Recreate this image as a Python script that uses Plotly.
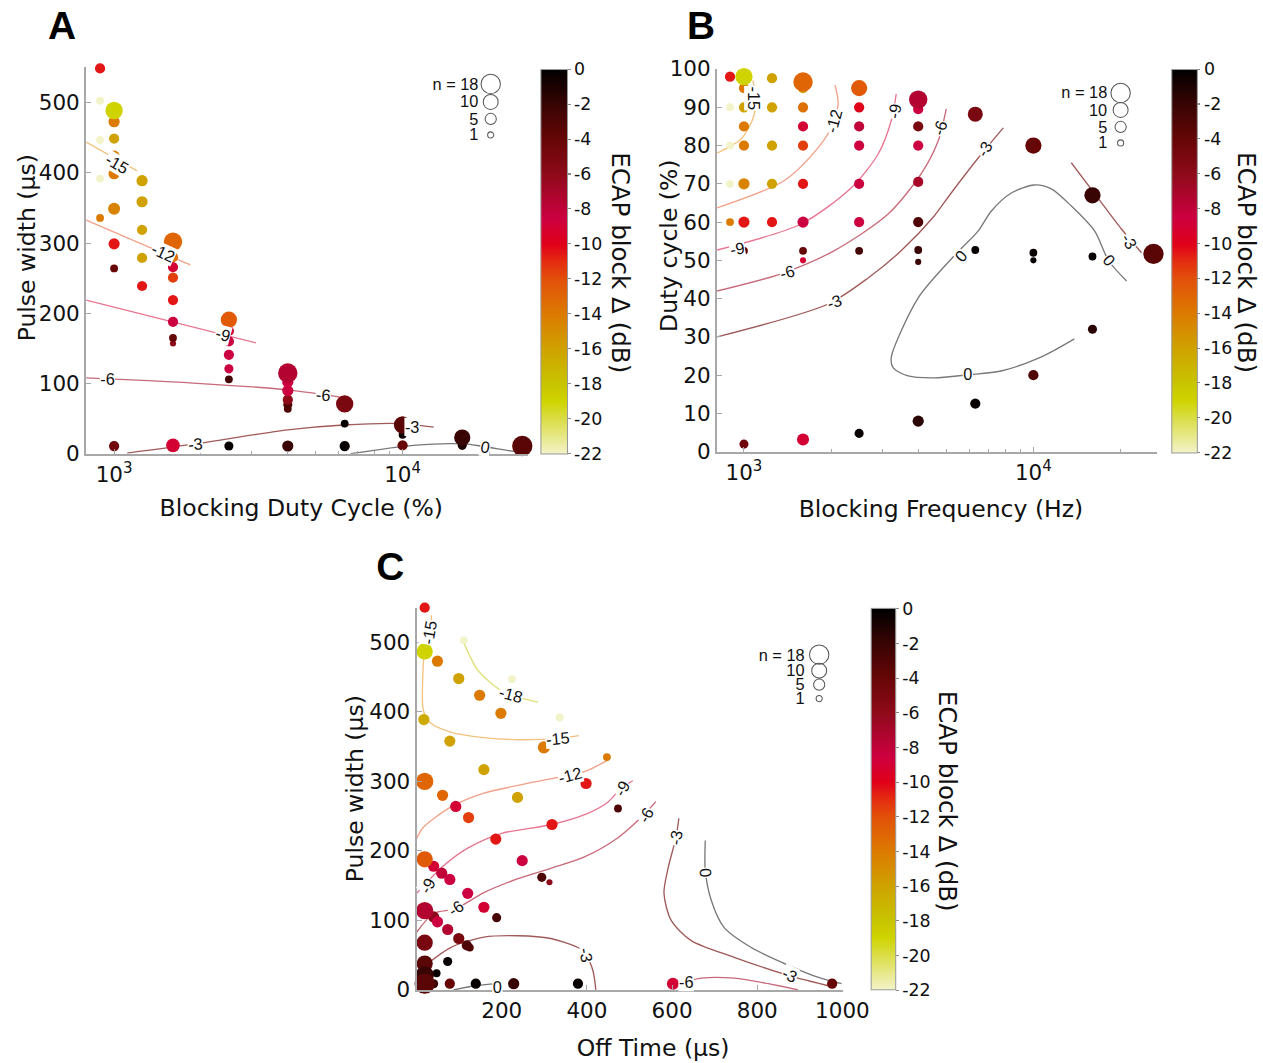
import numpy as np
import plotly.graph_objects as go

W, H = 1263, 1063

# ---------------- Panel A data (Blocking duty cycle axis, log) ----------------
A_x = [894, 894, 894, 894, 894,
       1000, 1000, 1000, 1000, 1000, 1000, 1000, 1000, 1000,
       1250, 1250, 1250, 1250, 1250,
       1600, 1600, 1600, 1600, 1600, 1600, 1600, 1600, 1600,
       2500, 2500, 2500, 2500, 2500, 2500, 2500,
       4000, 4000, 4000, 4000, 4000, 4000, 4000,
       6300, 6300, 6300,
       10000, 10000, 10000,
       16100, 16100,
       26000]
A_y = [549, 503, 447, 392, 336,
       489, 473, 449, 424, 399, 349, 299, 264, 11,
       389, 359, 319, 279, 239,
       302, 280, 266, 251, 219, 188, 165, 157, 12,
       191, 175, 160, 141, 121, 106, 11,
       115, 102, 90, 77, 70, 64, 11,
       71, 43, 11,
       41, 27, 12,
       23, 12,
       11]
A_db = [-10.5, -22, -22, -22, -14,
        -19, -14, -16, -14, -14, -14.5, -10.5, -4, -4.5,
        -16, -16, -16, -16, -10.5,
        -13, -13.5, -9, -11.5, -10.5, -8.5, -4, -6, -9,
        -12.5, -9, -8.5, -8.5, -8.5, -2.5, -0.3,
        -7.5, -8.5, -8.5, -6, -3, -3, -2,
        -5, -0.3, -0.3,
        -3.5, -0.5, -4,
        -2, -1,
        -3.5]
A_n = [4, 2, 2, 2, 2,
       14, 5, 4, 5, 5, 6, 5, 2, 4,
       5, 5, 4, 4, 4,
       16, 4, 4, 4, 4, 4, 2, 1, 8,
       12, 4, 4, 4, 3, 2, 3,
       18, 5, 5, 4, 3, 2, 5,
       14, 2, 4,
       14, 2, 4,
       12, 3,
       20]

A_c15_x = [800, 1202];                          A_c15_y = [444, 403]
A_c12_x = [800, 1837];                          A_c12_y = [333, 269]
A_c9_x = [800, 3105];                           A_c9_y = [219, 158]
A_c6_x = [800, 2000, 4000, 6240];               A_c6_y = [108, 100, 91, 80]
A_c3_x = [1110, 1911, 3990, 6240, 9840, 12820]; A_c3_y = [1, 14, 34, 41, 43, 38]
A_c0_x = [6600, 10900, 16300, 18650, 23700, 26500]; A_c0_y = [0, 12, 14, 11, 4, 1]
A_lab_x = [1024, 1480, 2390, 946, 5320, 1911, 10800, 19400]
A_lab_y = [413, 286, 170, 105, 83, 14, 38, 9]
A_lab_t = ["-15", "-12", "-9", "-6", "-6", "-3", "-3", "0"]
A_lab_a = [30, 25, 15, 0, 5, -5, 0, 10]

# ---------------- Panel B data ----------------
B_x = [895, 895, 895, 895, 895,
       1000, 1000, 1000, 1000, 1000, 1000, 1000, 1000, 1000,
       1250, 1250, 1250, 1250, 1250,
       1600, 1600, 1600, 1600, 1600, 1600, 1600, 1600, 1600, 1600,
       2500, 2500, 2500, 2500, 2500, 2500, 2500, 2500,
       4000, 4000, 4000, 4000, 4000, 4000, 4000, 4000, 4000,
       6300, 6300, 6300,
       10000, 10000, 10000, 10000,
       16000, 16000, 16000,
       26000]
B_y = [98, 90, 80, 70, 60,
       98, 95, 90, 85, 80, 70, 60, 52.5, 2,
       97.6, 90, 80, 70, 60,
       96.6, 95, 90, 85, 80, 70, 60, 52.5, 50, 3.2,
       95, 90, 85, 80, 70, 60, 52.5, 4.8,
       92, 89.5, 85, 80, 70.5, 60, 52.7, 49.6, 8,
       88.2, 52.7, 12.6,
       80, 52, 50, 20,
       67, 51, 32,
       51.7]
B_db = [-10.5, -22, -22, -22, -14,
        -19, -14, -16, -14, -14, -14.5, -10.5, -4, -4.5,
        -16, -16, -16, -16, -10.5,
        -13, -16, -13.5, -9, -11.5, -10.5, -8.5, -4, -9, -9,
        -12.5, -10, -8, -8.5, -8.5, -8.5, -2.5, -0.3,
        -7.5, -8.5, -5, -8.5, -7, -3, -2, -2, -1.5,
        -5, -0.3, -0.3,
        -4, -0.3, -0.3, -3,
        -2, -0.3, -1.5,
        -3.5]
B_n = [4, 2, 2, 2, 2,
       14, 4, 4, 4, 4, 5, 5, 2, 3,
       4, 4, 4, 4, 4,
       18, 4, 4, 4, 4, 4, 5, 2, 1, 6,
       12, 4, 4, 4, 4, 4, 2, 3,
       16, 4, 4, 4, 4, 4, 2, 1, 5,
       10, 2, 4,
       12, 2, 1, 4,
       12, 2, 3,
       20]

B_c15_x = [807, 977, 1074, 1100, 1074];               B_c15_y = [78, 81.7, 87, 91.6, 97]
B_c12_x = [807, 1375, 1802, 2000, 2115, 2065];        B_c12_y = [63.7, 70.8, 79.4, 84.6, 90.9, 95.8]
B_c9_x = [807, 1574, 2344, 2909, 3226, 3359];         B_c9_y = [52.7, 59.5, 68.9, 77.8, 86.4, 93.5]
B_c6_x = [807, 1343, 2047, 3148, 4093, 4688, 5000];   B_c6_y = [42, 46.5, 52.5, 62.1, 72.6, 81.2, 89.6]
B_c3a_x = [807, 1953, 2685, 3491, 4543, 5200, 6457, 7870]
B_c3a_y = [30, 38.6, 45.4, 52.5, 61.6, 67.6, 76.8, 84.6]
B_c3b_x = [13520, 16520, 20150, 23640];               B_c3b_y = [75.5, 66.8, 58.2, 52]
B_c0_x = [20990, 18200, 16270, 13530, 11530, 10070, 8390, 7160, 6450, 5330, 4000,
          3226, 3280, 3690, 4540, 5950, 7740, 10660, 13860]
B_c0_y = [44.6, 49.9, 57.7, 64.2, 68.7, 69.7, 67.6, 62.9, 57.7, 51.2, 40.2,
          24.5, 21.9, 19.8, 19.3, 20.1, 21.1, 24.8, 29.5]
B_lab_x = [1074, 2047, 3323, 4750, 6760, 2047, 1409, 946, 5640, 5950, 18200, 21300]
B_lab_y = [92.4, 86.4, 89, 84.6, 79, 39, 46.7, 53, 51, 20, 50, 55]
B_lab_t = ["-15", "-12", "-9", "-6", "-3", "-3", "-6", "-9", "0", "0", "0", "-3"]
B_lab_a = [90, -75, -80, -70, -60, -20, -15, -10, -50, 0, 50, 60]

# ---------------- Panel C data ----------------
C_x = [19, 19, 49, 111, 99, 224, 148, 198, 336, 17, 78, 299, 447, 158, 19, 398, 61,
       237, 92, 122, 318, 473, 186, 19, 40, 59, 78, 248, 120, 158, 294, 312, 188,
       19, 40, 49, 73, 99, 118, 125, 19, 19, 73, 47, 19, 19, 40, 78, 139, 228,
       379, 602, 976]
C_y = [550, 487, 473, 503, 448, 447, 424, 398, 392, 389, 358, 349, 335, 317, 300, 297,
       280, 277, 264, 248, 238, 261, 217, 188, 178, 168, 159, 186, 139, 119, 162, 155,
       104, 114, 105, 98, 87, 74, 64, 61, 68, 38, 41, 24, 21, 9, 9, 9, 9, 9, 9, 9, 9]
C_db = [-10.5, -19, -14, -22, -16, -22, -14, -14, -22, -16.5, -16, -14, -14, -16, -13,
        -10.5, -13, -16, -9, -11.5, -10.5, -3, -10.5, -12.5, -9, -8, -8.5, -8.5, -8.5,
        -9, -3, -6, -2.5, -7.5, -6, -8.5, -7.5, -5, -3, -3, -5, -3.5, -0.3, -0.3, -2,
        -3.5, -2, -4, -0.3, -2, -0.3, -9, -4]
C_n = [4, 12, 5, 2, 5, 2, 5, 5, 2, 5, 5, 6, 2, 5, 14, 5, 5, 5, 5, 5, 5, 2, 5, 12, 5,
       5, 5, 5, 5, 5, 3, 1, 3, 14, 5, 5, 5, 5, 4, 2, 12, 12, 3, 2, 16, 20, 3, 4, 4, 5,
       4, 6, 4]

C_c18_x = [111, 144, 198, 252, 285];        C_c18_y = [499, 460, 431, 419, 414]
C_c15_x = [35, 31, 19, 14, 16, 33, 80, 158, 240, 334, 381]
C_c15_y = [539, 514, 488, 441, 402, 384, 371, 363, 360, 362, 366]
C_c12_x = [0, 16, 80, 158, 275, 358, 402, 447]; C_c12_y = [218, 234, 263, 283, 299, 309, 316, 330]
C_c9_x = [0, 64, 120, 198, 318, 402, 449, 480, 508]
C_c9_y = [139, 179, 204, 225, 238, 254, 270, 290, 301]
C_c6a_x = [0, 40, 92, 158, 238, 315, 393, 473, 527, 562]
C_c6a_y = [83, 110, 117, 140, 160, 175, 191, 219, 248, 271]
C_c6b_x = [628, 668, 746, 826, 896];        C_c6b_y = [11, 17, 17, 9, 0]
C_c3a_x = [26, 80, 158, 238, 315, 379, 398, 414, 421]
C_c3a_y = [38, 61, 76, 78, 74, 61, 50, 28, 0]
C_c3b_x = [616, 609, 591, 581, 598, 645, 746, 873, 981]
C_c3b_y = [247, 219, 176, 139, 100, 71, 47, 21, 4]
C_c0a_x = [678, 678, 692, 722, 786, 864, 944, 998]; C_c0a_y = [215, 172, 129, 90, 61, 38, 18, 9]
C_c0b_x = [87, 127, 167, 193];              C_c0b_y = [0, 5, 8, 9]
C_lab_x = [31, 221, 332, 360, 482, 539, 609, 678, 398, 875, 633, 191, 26, 92]
C_lab_y = [514, 424, 362, 309, 290, 251, 219, 169, 50, 21, 11, 4, 150, 117]
C_lab_t = ["-15", "-18", "-15", "-12", "-9", "-6", "-3", "0", "-3", "-3", "-6", "0", "-9", "-6"]
C_lab_a = [-80, 15, -5, -15, -60, -60, -80, -95, 80, 25, 0, 0, -60, -35]

CB_vals = [0, -2, -4, -6, -8, -10, -12, -14, -16, -18, -20, -22]
LEG_n = [18, 10, 5, 1]

# ---------------- style ----------------
CSCALE = [
    [0.0, "#f3f3c9"], [0.0909, "#dadd45"], [0.1364, "#cfd400"], [0.1818, "#c8c400"],
    [0.2727, "#cfa200"], [0.3636, "#dc7a00"], [0.4545, "#e2500a"], [0.5, "#e42c10"],
    [0.5455, "#e0001a"], [0.6136, "#cc0040"], [0.7273, "#8e0a1a"], [0.8182, "#660606"],
    [0.9091, "#380404"], [1.0, "#000000"],
]
LEVEL_COL = {"-18": "#e2e07a", "-15": "#f2c27e", "-12": "#f2a088", "-9": "#e87590",
             "-6": "#c86a7a", "-3": "#a05a5a", "0": "#787878"}
FONT = "DejaVu Sans"
AXC = "#a8a8a8"


def msize(n):
    return 2 + 4 * np.sqrt(np.asarray(n, dtype=float))


def px(x):
    return x / W


def py(y):
    return 1 - y / H


fig = go.Figure()


def add_points(xs, ys, db, n, xa, ya, cb_x, cb_y, cb_len, cb_th):
    order = np.argsort(np.asarray(n), kind="stable")
    xs = np.asarray(xs, float)[order]
    ys = np.asarray(ys, float)[order]
    db = np.asarray(db, float)[order]
    nn = np.asarray(n, float)[order]
    fig.add_trace(go.Scatter(
        x=xs, y=ys, mode="markers", xaxis=xa, yaxis=ya, showlegend=False, cliponaxis=False,
        marker=dict(size=msize(nn), color=db, cmin=-22, cmax=0, colorscale=CSCALE,
                    line=dict(width=0), opacity=1, showscale=True,
                    colorbar=dict(x=px(cb_x), xanchor="left", y=py(cb_y), yanchor="middle",
                                  len=cb_len / H, lenmode="fraction", thickness=cb_th,
                                  thicknessmode="pixels", xpad=0, ypad=0,
                                  outlinewidth=1, outlinecolor="#999999",
                                  tickvals=CB_vals, ticktext=[str(v) for v in CB_vals],
                                  ticks="outside", ticklen=3, tickcolor="#888888",
                                  tickfont=dict(family=FONT, size=17, color="#111111"))),
    ))


def add_line(xs, ys, level, xa, ya):
    fig.add_trace(go.Scatter(x=xs, y=ys, mode="lines", xaxis=xa, yaxis=ya, showlegend=False,
                             line=dict(color=LEVEL_COL[level], width=1.3, shape="spline",
                                       smoothing=0.8),
                             hoverinfo="skip"))


annotations = []


def add_labels(xs, ys, ts, angs, xa, ya, log=False):
    for x, y, t, a in zip(xs, ys, ts, angs):
        annotations.append(dict(x=np.log10(x) if log else x, y=y, xref=xa, yref=ya, text=t,
                                showarrow=False, textangle=a, bgcolor="white", borderpad=0,
                                font=dict(family="Liberation Sans", size=16, color="#111111")))


for lv, xs, ys in [("-15", A_c15_x, A_c15_y), ("-12", A_c12_x, A_c12_y), ("-9", A_c9_x, A_c9_y),
                   ("-6", A_c6_x, A_c6_y), ("-3", A_c3_x, A_c3_y), ("0", A_c0_x, A_c0_y)]:
    add_line(xs, ys, lv, "x", "y")
add_labels(A_lab_x, A_lab_y, A_lab_t, A_lab_a, "x", "y", log=True)
add_points(A_x, A_y, A_db, A_n, "x", "y", 540, 260.5, 385, 26)

for lv, xs, ys in [("-15", B_c15_x, B_c15_y), ("-12", B_c12_x, B_c12_y), ("-9", B_c9_x, B_c9_y),
                   ("-6", B_c6_x, B_c6_y), ("-3", B_c3a_x, B_c3a_y), ("-3", B_c3b_x, B_c3b_y),
                   ("0", B_c0_x, B_c0_y)]:
    add_line(xs, ys, lv, "x2", "y2")
add_labels(B_lab_x, B_lab_y, B_lab_t, B_lab_a, "x2", "y2", log=True)
add_points(B_x, B_y, B_db, B_n, "x2", "y2", 1170, 260, 384, 25)

for lv, xs, ys in [("-18", C_c18_x, C_c18_y), ("-15", C_c15_x, C_c15_y), ("-12", C_c12_x, C_c12_y),
                   ("-9", C_c9_x, C_c9_y), ("-6", C_c6a_x, C_c6a_y), ("-6", C_c6b_x, C_c6b_y),
                   ("-3", C_c3a_x, C_c3a_y), ("-3", C_c3b_x, C_c3b_y), ("0", C_c0a_x, C_c0a_y),
                   ("0", C_c0b_x, C_c0b_y)]:
    add_line(xs, ys, lv, "x3", "y3")
add_labels(C_lab_x, C_lab_y, C_lab_t, C_lab_a, "x3", "y3")
add_points(C_x, C_y, C_db, C_n, "x3", "y3", 870, 799, 382, 24)

annotations.append(dict(x=np.log10(15900), y=-4, xref="x", yref="y", text="0", showarrow=False,
                        font=dict(family=FONT, size=26, color="#111111")))

shapes = []
for (cx, tx, ys_) in [(490, 480, [83, 101, 118, 134]), (1119, 1108, [92, 109, 126, 142]),
                      (818, 806, [654, 670, 684, 698])]:
    for i, (nv, yy) in enumerate(zip(LEG_n, ys_)):
        d = float(msize(nv))
        shapes.append(dict(type="circle", xref="paper", yref="paper", xsizemode="pixel",
                           ysizemode="pixel", xanchor=px(cx), yanchor=py(yy),
                           x0=-d / 2, x1=d / 2, y0=-d / 2, y1=d / 2,
                           line=dict(color="#555555", width=1)))
        annotations.append(dict(x=px(tx), y=py(yy), xref="paper", yref="paper", xanchor="right",
                                yanchor="middle", showarrow=False,
                                text=("n = %d" % nv) if i == 0 else str(nv),
                                font=dict(family="Liberation Sans", size=16, color="#111111")))

for (t, x, y, ang, sz) in [("Blocking Duty Cycle (%)", 301, 507, 0, 23),
                           ("Pulse width (μs)", 27, 247, -90, 23),
                           ("Blocking Frequency (Hz)", 940, 508, 0, 23),
                           ("Duty cycle (%)", 668, 245, -90, 23),
                           ("Off Time (μs)", 652, 1048, 0, 23),
                           ("Pulse width (μs)", 355, 788, -90, 23),
                           ("ECAP block Δ (dB)", 619, 262, 90, 24),
                           ("ECAP block Δ (dB)", 1244, 262, 90, 24),
                           ("ECAP block Δ (dB)", 946, 800, 90, 24)]:
    annotations.append(dict(x=px(x), y=py(y), xref="paper", yref="paper", text=t, textangle=ang,
                            showarrow=False, xanchor="center", yanchor="middle",
                            font=dict(family=FONT, size=sz, color="#111111")))
for (t, x, y) in [("A", 62, 25), ("B", 700, 25), ("C", 390, 566)]:
    annotations.append(dict(x=px(x), y=py(y), xref="paper", yref="paper", text="<b>%s</b>" % t,
                            showarrow=False, xanchor="center", yanchor="middle",
                            font=dict(family="Liberation Sans", size=38, color="#000000")))

axis_common = dict(showgrid=False, zeroline=False, showline=True, linecolor=AXC, linewidth=2,
                   ticks="inside", ticklen=5, tickcolor=AXC, tickwidth=1,
                   tickfont=dict(family=FONT, size=21, color="#111111"))
log_minor = [2000, 3000, 4000, 5000, 6000, 7000, 8000, 9000, 20000]

fig.update_layout(
    width=W, height=H, autosize=False, margin=dict(l=0, r=0, t=0, b=0),
    paper_bgcolor="white", plot_bgcolor="white", showlegend=False,
    xaxis=dict(domain=[px(86), px(527)], type="log", range=[2.903, 4.434], anchor="y",
               tickvals=[1000, 10000], ticktext=["10<sup>3</sup>", "10<sup>4</sup>"],
               minor=dict(tickvals=log_minor, ticks="inside", ticklen=3, tickcolor=AXC),
               **axis_common),
    yaxis=dict(domain=[py(453), py(66)], range=[0, 551], anchor="x",
               tickvals=[0, 100, 200, 300, 400, 500], **axis_common),
    xaxis2=dict(domain=[px(716), px(1155)], type="log", range=[2.907, 4.426], anchor="y2",
                tickvals=[1000, 10000], ticktext=["10<sup>3</sup>", "10<sup>4</sup>"],
                minor=dict(tickvals=log_minor, ticks="inside", ticklen=3, tickcolor=AXC),
                **axis_common),
    yaxis2=dict(domain=[py(451), py(68)], range=[0, 100], anchor="x2",
                tickvals=list(range(0, 101, 10)), **axis_common),
    xaxis3=dict(domain=[px(416), px(842)], range=[0, 1002], anchor="y3",
                tickvals=[0, 200, 400, 600, 800, 1000],
                ticktext=["", "200", "400", "600", "800", "1000"], **axis_common),
    yaxis3=dict(domain=[py(989.5), py(607)], range=[0, 550], anchor="x3",
                tickvals=[0, 100, 200, 300, 400, 500], **axis_common),
    annotations=annotations,
    shapes=shapes,
)

# The capture maps the page slightly shrunk; pre-compensate with a CSS transform on the div.
POST = ("document.documentElement.style.margin='0';document.documentElement.style.overflow='hidden';"
        "document.body.style.margin='0';document.body.style.overflow='hidden';"
        "var d=document.getElementById('{plot_id}');d.style.position='absolute';"
        "d.style.left='0px';d.style.top='0px';d.style.transformOrigin='0 0';"
        "d.style.transform='translate(0px,-11.25px) scale(1.0225)';")

fig.write_html("out.html", post_script=POST, config={"displayModeBar": False, "responsive": False})
